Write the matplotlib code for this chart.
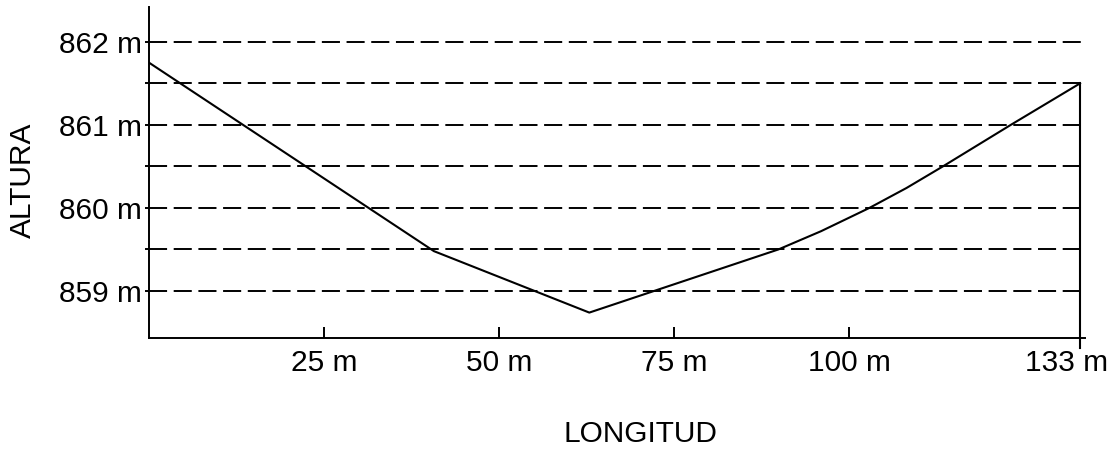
import matplotlib
matplotlib.use('Agg')
import matplotlib.pyplot as plt
from matplotlib.transforms import ScaledTranslation
import numpy as np

plt.rcParams['font.family'] = ['Liberation Sans', 'DejaVu Sans']

# profile: distance (m) and altitude (m)
dist = [0, 40.7, 62.9, 89.9, 96.0, 102.9, 108.2, 113.4, 123.1, 133]
alt = [861.75, 859.48, 858.74, 859.50, 859.72, 860.00, 860.24, 860.50, 861.00, 861.50]

x_ticks = [25, 50, 75, 100, 133]
x_labels = ['25 m', '50 m', '75 m', '100 m', '133 m']
y_ticks = [859, 860, 861, 862]
y_labels = ['859 m', '860 m', '861 m', '862 m']
grid_levels = [859, 859.5, 860, 860.5, 861, 861.5, 862]

fig = plt.figure(figsize=(11.19, 4.53), dpi=100)
ax = fig.add_axes([149/1119, 1 - 338/453, 936/1119, 331/453])

xmax = 133.71
ylo, yhi = 858.434, 862.42
ax.set_xlim(0, xmax)
ax.set_ylim(ylo, yhi)

for lv in grid_levels:
    ax.plot([0, xmax], [lv, lv], color='black', lw=1.4,
            linestyle=(0, (9.3, 3.4)), clip_on=False)

ax.plot(dist, alt, color='black', lw=1.5)

# vertical line at the end of the profile
ax.axvline(dist[-1], ymin=-0.03, ymax=(alt[-1] - ylo) / (yhi - ylo),
           color='black', lw=1.5, clip_on=False)

for s in ['top', 'right']:
    ax.spines[s].set_visible(False)
for s in ['left', 'bottom']:
    ax.spines[s].set_linewidth(1.4)

ax.set_xticks(x_ticks)
ax.set_xticklabels(x_labels, fontsize=21.5)
ax.set_yticks(y_ticks)
ax.set_yticklabels(y_labels, fontsize=21.5)
ax.set_yticks(grid_levels, minor=True)
ax.tick_params(axis='x', direction='in', length=8, width=1.4, pad=8)
ax.tick_params(axis='y', which='both', direction='out', length=3, width=1.4, pad=2)

# last label sits a bit left of its tick, as in the drawing
last = ax.get_xticklabels()[-1]
last.set_transform(last.get_transform() + ScaledTranslation(-0.13, 0, fig.dpi_scale_trans))

fig.text(23/1119, 1 - 180/453, 'ALTURA', rotation=90, fontsize=21.5,
         ha='center', va='center')
fig.text(640/1119, 1 - 434/453, 'LONGITUD', fontsize=21.5,
         ha='center', va='center')

fig.savefig('out.png', dpi=100)
